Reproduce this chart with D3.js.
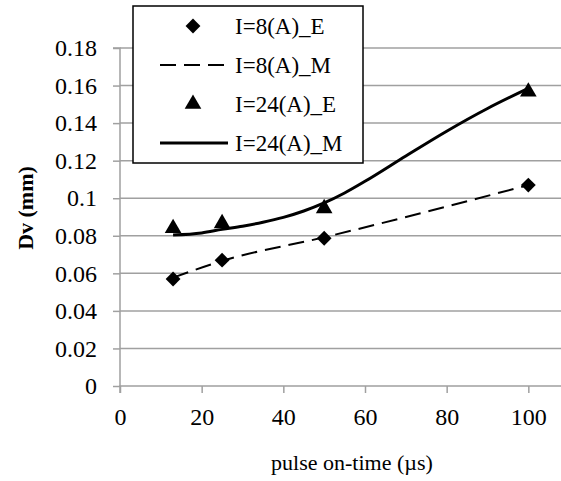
<!DOCTYPE html>
<html>
<head>
<meta charset="utf-8">
<script src="https://cdn.jsdelivr.net/npm/d3@7"></script>
<style>
  body { margin: 0; background: #fff; }
  svg { display: block; font-family: "Liberation Serif", "Times New Roman", serif; }
</style>
</head>
<body>
<svg id="chart"></svg>
<script>
// experimental points, pulse on-time (us)
const pulseOnTime = [13, 25, 50, 100];
const dvI8E = [0.057, 0.067, 0.0787, 0.107];
const dvI24E = [0.084, 0.0866, 0.0946, 0.1567];
// model curves (Dv in mm)
const modelTimeI8 = [13, 25, 50, 100];
const dvI8M = [0.0577, 0.0666, 0.0792, 0.107];
const modelTimeI24 = [13, 20, 25, 30, 35, 40, 45, 50, 55, 60, 70, 80, 90, 100];
const dvI24M = [0.0804, 0.0815, 0.0834, 0.0851, 0.0872, 0.0898, 0.0932, 0.0975,
  0.1028, 0.1090, 0.1225, 0.1357, 0.1478, 0.1585];
const xTicks = [0, 20, 40, 60, 80, 100];
const yTicks = [0, 0.02, 0.04, 0.06, 0.08, 0.1, 0.12, 0.14, 0.16, 0.18];
const legendLabels = ["I=8(A)_E", "I=8(A)_M", "I=24(A)_E", "I=24(A)_M"];

const width = 561, height = 481;
const margin = { top: 48, right: 0, bottom: 95, left: 120 };
const serif = "Liberation Serif";

const svg = d3.select("#chart").attr("width", width).attr("height", height);

const x = d3.scaleLinear().domain([0, 108]).range([margin.left, width - margin.right]);
const y = d3.scaleLinear().domain([0, 0.18]).range([height - margin.bottom, margin.top]);

const gridColor = "#a0a0a0";

// horizontal gridlines
svg.append("g")
  .selectAll("line")
  .data(yTicks.slice(1))
  .join("line")
  .attr("x1", x(0)).attr("x2", width)
  .attr("y1", d => y(d)).attr("y2", d => y(d))
  .attr("stroke", gridColor).attr("stroke-width", 1.5);

// y axis
const yAxis = svg.append("g")
  .attr("transform", `translate(${x(0)},0)`)
  .call(d3.axisLeft(y).tickValues(yTicks).tickSize(7).tickPadding(16)
    .tickFormat(d => d === 0 ? "0" : String(+d.toFixed(2))));

// x axis
const xAxis = svg.append("g")
  .attr("transform", `translate(0,${y(0)})`)
  .call(d3.axisBottom(x).tickValues(xTicks).tickSize(7).tickPadding(15));

[xAxis, yAxis].forEach(a => {
  a.attr("font-family", serif).attr("font-size", 24);
  a.select(".domain").attr("stroke", gridColor).attr("stroke-width", 1.5);
  a.selectAll(".tick line").attr("stroke", gridColor).attr("stroke-width", 1.5);
  a.selectAll("text").attr("fill", "#000");
});
yAxis.select(".domain").attr("d", `M-7,${y(0.18)}H0V${y(0)}`);
xAxis.select(".domain").attr("d", `M${x(0)},7V0H${width}`);

// model lines
const lineGen = d3.line()
  .x(d => x(d[0]))
  .y(d => y(d[1]))
  .curve(d3.curveMonotoneX);

svg.append("path")
  .datum(modelTimeI8.map((t, i) => [t, dvI8M[i]]))
  .attr("d", lineGen)
  .attr("fill", "none").attr("stroke", "#000").attr("stroke-width", 2)
  .attr("stroke-dasharray", "16,8");

svg.append("path")
  .datum(modelTimeI24.map((t, i) => [t, dvI24M[i]]))
  .attr("d", lineGen)
  .attr("fill", "none").attr("stroke", "#000").attr("stroke-width", 3);

// experimental markers
const diamond = d3.symbol().type(d3.symbolSquare).size(110);
const triangle = d3.symbol().type(d3.symbolTriangle).size(120);

svg.append("g")
  .selectAll("path")
  .data(pulseOnTime.map((t, i) => [t, dvI8E[i]]))
  .join("path")
  .attr("d", diamond)
  .attr("transform", d => `translate(${x(d[0])},${y(d[1])}) rotate(45)`)
  .attr("fill", "#000");

svg.append("g")
  .selectAll("path")
  .data(pulseOnTime.map((t, i) => [t, dvI24E[i]]))
  .join("path")
  .attr("d", triangle)
  .attr("transform", d => `translate(${x(d[0])},${y(d[1])})`)
  .attr("fill", "#000");

// axis titles
svg.append("text")
  .attr("x", 352).attr("y", 470)
  .attr("text-anchor", "middle")
  .style("font-size", "22px")
  .text("pulse on-time (µs)");

svg.append("text")
  .attr("transform", "translate(33,208) rotate(-90)")
  .attr("text-anchor", "middle")
  .style("font-size", "22px")
  .style("font-weight", "bold")
  .text("Dv (mm)");

// legend
const legend = svg.append("g").attr("transform", "translate(133,6)");
legend.append("rect")
  .attr("width", 230).attr("height", 157)
  .attr("fill", "#fff").attr("stroke", "#000").attr("stroke-width", 1.5);

const rowY = d3.scalePoint().domain(legendLabels).range([20, 137]);

legendLabels.forEach((label, i) => {
  const cy = rowY(label);
  if (i === 0) {
    legend.append("path").attr("d", diamond)
      .attr("transform", `translate(60,${cy}) rotate(45)`).attr("fill", "#000");
  } else if (i === 2) {
    legend.append("path").attr("d", triangle)
      .attr("transform", `translate(60,${cy})`).attr("fill", "#000");
  } else {
    legend.append("line")
      .attr("x1", 27).attr("x2", 95).attr("y1", cy).attr("y2", cy)
      .attr("stroke", "#000").attr("stroke-width", i === 1 ? 2 : 3)
      .attr("stroke-dasharray", i === 1 ? "16,8" : null);
  }
  legend.append("text")
    .attr("x", 102).attr("y", cy + 8)
    .style("font-size", "23px")
    .text(label);
});
</script>
</body>
</html>
